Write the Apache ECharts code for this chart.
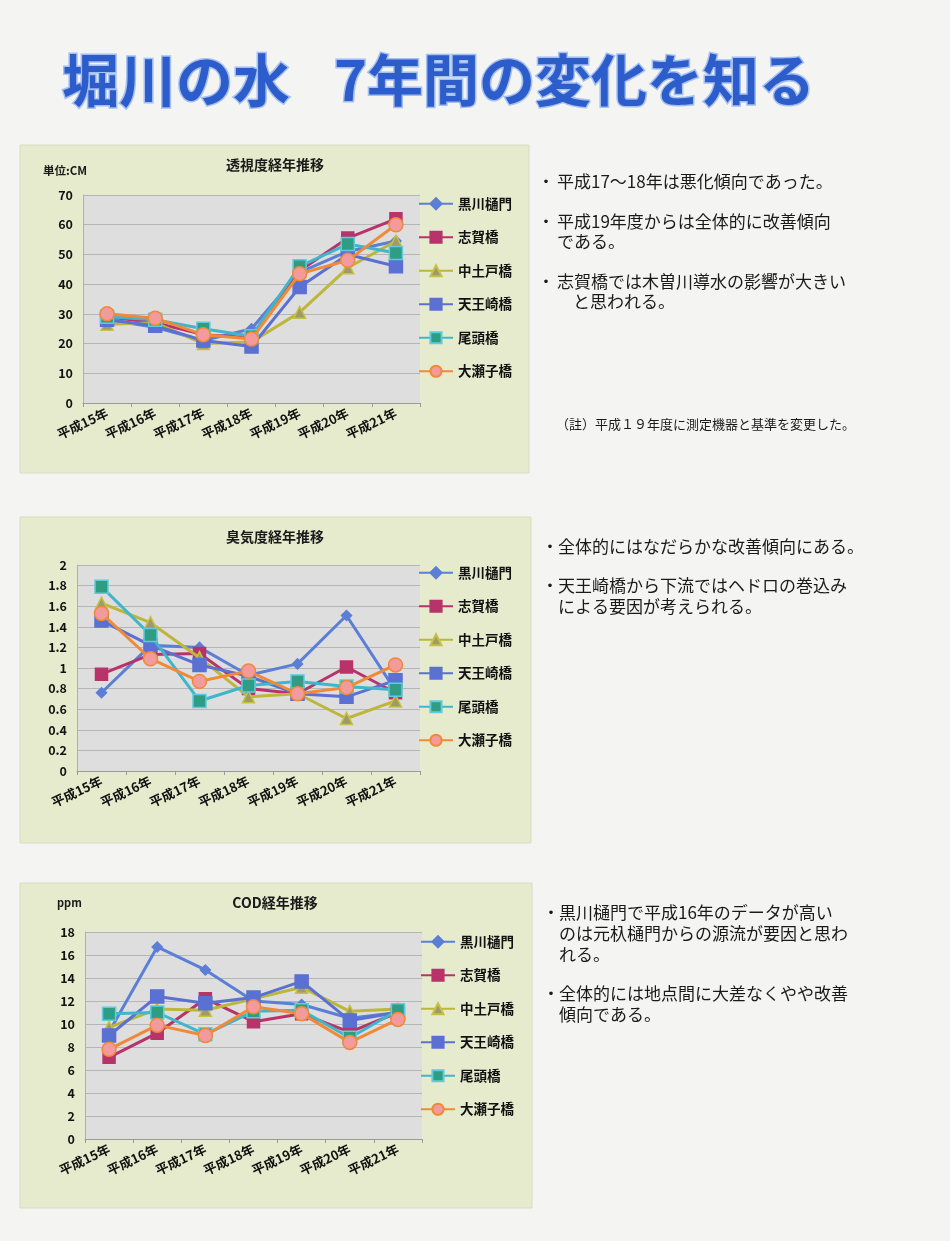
<!DOCTYPE html>
<html>
<head>
<meta charset="utf-8">
<script src="https://cdn.jsdelivr.net/npm/echarts@6/dist/echarts.min.js"></script>
<style>
html,body{margin:0;padding:0;background:#f4f4f2;}
#c{width:950px;height:1241px;}
</style>
</head>
<body>
<div id="c"></div>
<script>
// ---- data ----
const years = ['平成15年','平成16年','平成17年','平成18年','平成19年','平成20年','平成21年'];
const stations = ['黒川樋門','志賀橋','中土戸橋','天王崎橋','尾頭橋','大瀬子橋'];

// 透視度 (cm)
const tou_kurokawa  = [28, 25.5, 21, 25, 44, 51, 54.5];
const tou_shiga     = [29, 27, 23, 22, 44.5, 55.5, 62];
const tou_nakatsuto = [26.5, 27, 20, 20.5, 30.5, 45.5, 54.5];
const tou_tennozaki = [28, 26, 21, 19, 39, 50, 46];
const tou_oto       = [29, 28, 25, 22.5, 46, 53.5, 50.5];
const tou_osezo     = [30, 28.5, 23, 21.5, 43.5, 48, 60];

// 臭気度
const shu_kurokawa  = [0.76, 1.22, 1.2, 0.93, 1.04, 1.51, 0.78];
const shu_shiga     = [0.94, 1.13, 1.14, 0.8, 0.75, 1.01, 0.76];
const shu_nakatsuto = [1.63, 1.44, 1.1, 0.72, 0.75, 0.51, 0.68];
const shu_tennozaki = [1.46, 1.22, 1.03, 0.92, 0.75, 0.72, 0.88];
const shu_oto       = [1.79, 1.32, 0.68, 0.83, 0.87, 0.82, 0.79];
const shu_osezo     = [1.53, 1.09, 0.87, 0.97, 0.75, 0.81, 1.03];

// COD (ppm)
const cod_kurokawa  = [9.3, 16.7, 14.7, 12.0, 11.7, 10.5, 11.0];
const cod_shiga     = [7.1, 9.2, 12.2, 10.2, 10.9, 9.3, 11.0];
const cod_nakatsuto = [9.7, 11.3, 11.2, 12.2, 13.2, 11.1, 11.3];
const cod_tennozaki = [9.0, 12.4, 11.8, 12.3, 13.7, 10.3, 11.0];
const cod_oto       = [10.9, 11.0, 9.1, 11.1, 11.2, 8.8, 11.2];
const cod_osezo     = [7.8, 9.9, 9.0, 11.5, 10.9, 8.4, 10.4];

const yTou = {min:0, max:70, interval:10};
const yShu = {min:0, max:2, interval:0.2};
const yCod = {min:0, max:18, interval:2};

// ---- styles ----
const FONT = '"Noto Sans CJK JP", "Noto Sans", sans-serif';
const styles = [
  {line:'#5b7fd6', symbol:'diamond', size:10, fill:'#5b7fd6', border:'#5b7fd6'},
  {line:'#b8336a', symbol:'rect', size:12, fill:'#b8336a', border:'#b8336a'},
  {line:'#bdb63a', symbol:'triangle', size:12, fill:'#9d9a6c', border:'#c8c040'},
  {line:'#5a70d2', symbol:'rect', size:13, fill:'#5a70d2', border:'#5a70d2'},
  {line:'#3fb6cc', symbol:'rect', size:13, fill:'#2f9c84', border:'#5fcbdc'},
  {line:'#f08a38', symbol:'circle', size:14, fill:'#f39a9c', border:'#f08a38'}
];

const chartData = [
  [tou_kurokawa, tou_shiga, tou_nakatsuto, tou_tennozaki, tou_oto, tou_osezo],
  [shu_kurokawa, shu_shiga, shu_nakatsuto, shu_tennozaki, shu_oto, shu_osezo],
  [cod_kurokawa, cod_shiga, cod_nakatsuto, cod_tennozaki, cod_oto, cod_osezo]
];
const yRanges = [yTou, yShu, yCod];

const grids = [
  {left:83, top:195, width:337, height:208},
  {left:77, top:565, width:343, height:206},
  {left:85, top:932, width:337, height:207}
];
const legendPos = [
  {left:413, top:192},
  {left:413, top:561},
  {left:415, top:930}
];

const option = {
  backgroundColor:'#f4f4f2',
  animation:false,
  textStyle:{fontFamily:FONT},
  grid: grids.map(g => Object.assign({show:true, backgroundColor:'#dedede', borderWidth:0}, g)),
  xAxis: grids.map((g,i) => ({
    type:'category', gridIndex:i, data:years, boundaryGap:true,
    axisLine:{show:true, lineStyle:{color:'#9a9a9a', width:1}},
    axisTick:{show:true, length:4, lineStyle:{color:'#9a9a9a'}},
    axisLabel:{interval:0, rotate:25, margin:9, color:'#111', fontSize:13, fontWeight:'bold', fontFamily:FONT},
    splitLine:{show:false}
  })),
  yAxis: yRanges.map((r,i) => ({
    type:'value', gridIndex:i, min:r.min, max:r.max, interval:r.interval,
    axisLine:{show:true, lineStyle:{color:'#b0b0b0'}},
    axisTick:{show:false},
    axisLabel:{color:'#111', fontSize:12.5, fontWeight:'bold', margin:10, fontFamily:FONT},
    splitLine:{show:true, lineStyle:{color:'#b5b5b5', width:1}}
  })),
  legend: legendPos.map(p => ({
    left:p.left, top:p.top, orient:'vertical', data:stations,
    itemWidth:34, itemHeight:14, itemGap:20,
    textStyle:{color:'#111', fontSize:13.5, fontWeight:'bold', fontFamily:FONT}
  })),
  series: [],
  graphic: []
};

chartData.forEach((set, ci) => {
  set.forEach((vals, si) => {
    const s = styles[si];
    option.series.push({
      type:'line', name:stations[si], xAxisIndex:ci, yAxisIndex:ci,
      data:vals, symbol:s.symbol, symbolSize:s.size, showSymbol:true,
      lineStyle:{color:s.line, width:3},
      itemStyle:{color:s.fill, borderColor:s.border, borderWidth:1.5},
      z: 2 + si
    });
  });
});

// panels
const panels = [
  {x:20, y:145, w:509, h:328},
  {x:20, y:517, w:511, h:326},
  {x:20, y:883, w:512, h:325}
];
panels.forEach(p => option.graphic.push({
  type:'rect', z:-100, silent:true,
  shape:{x:p.x, y:p.y, width:p.w, height:p.h},
  style:{fill:'#e7ebcd', stroke:'#d8dcc0', lineWidth:1}
}));

function txt(x, y, text, size, opts) {
  opts = opts || {};
  option.graphic.push({
    type:'text', z:10, silent:true, x:x, y:y,
    style:Object.assign({
      text:text, fill:'#1a1a1a', fontSize:size, fontFamily:FONT,
      fontWeight:opts.bold ? 'bold' : 'normal',
      textAlign:opts.align || 'left', textVerticalAlign:'middle'
    }, opts.style || {})
  });
}

// main title
const titleStyle = {
  fill:'#2d5ccb', stroke:'#a4c0f2', lineWidth:3,
  shadowBlur:6, shadowColor:'rgba(60,100,210,0.55)', shadowOffsetX:2, shadowOffsetY:2
};
txt(62, 80, '堀川の水', 57, {bold:true, style:titleStyle});
txt(334, 80, '7年間の変化を知る', 56, {bold:true, style:titleStyle});

// chart titles / units
txt(275, 165, '透視度経年推移', 14, {bold:true, align:'center'});
txt(43, 171, '単位:CM', 11.5, {bold:true});
txt(275, 537, '臭気度経年推移', 14, {bold:true, align:'center'});
txt(275, 903, 'COD経年推移', 14, {bold:true, align:'center'});
txt(57, 903, 'ppm', 11, {bold:true});

// comments
function bullet(x, y) { txt(x, y, '・', 17, {align:'center'}); }
bullet(546, 182); txt(557, 182, '平成17～18年は悪化傾向であった。', 17);
bullet(546, 222); txt(557, 222, '平成19年度からは全体的に改善傾向', 17);
txt(557, 242, 'である。', 17);
bullet(546, 282); txt(557, 282, '志賀橋では木曽川導水の影響が大きい', 17);
txt(573, 302, 'と思われる。', 17);
txt(556, 424, '（註）平成１９年度に測定機器と基準を変更した。', 13);

bullet(550, 547); txt(558, 547, '全体的にはなだらかな改善傾向にある。', 17);
bullet(550, 586); txt(558, 586, '天王崎橋から下流ではヘドロの巻込み', 17);
txt(558, 607, 'による要因が考えられる。', 17);

bullet(551, 913); txt(559, 913, '黒川樋門で平成16年のデータが高い', 17);
txt(559, 934, 'のは元杁樋門からの源流が要因と思わ', 17);
txt(559, 955, 'れる。', 17);
bullet(551, 994); txt(559, 994, '全体的には地点間に大差なくやや改善', 17);
txt(559, 1015, '傾向である。', 17);

const chart = echarts.init(document.getElementById('c'), null, {renderer:'canvas'});
chart.setOption(option);
</script>
</body>
</html>
